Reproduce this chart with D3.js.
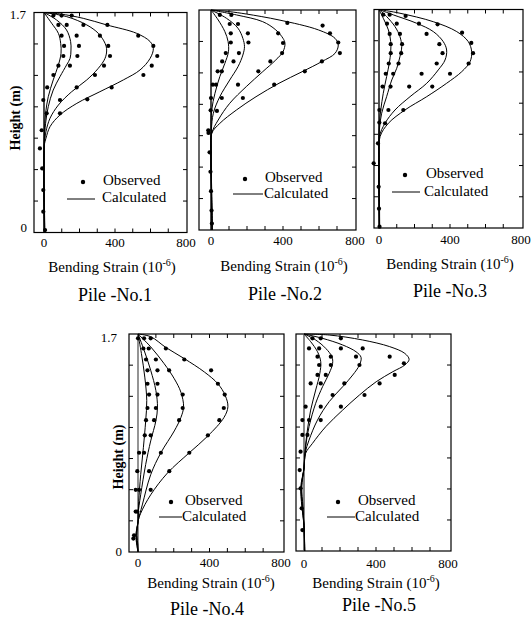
<!DOCTYPE html>
<html>
<head>
<meta charset="utf-8">
<script src="https://cdn.jsdelivr.net/npm/d3@7"></script>
<style>
  body { margin: 0; background: #fff; }
  svg { display: block; }
</style>
</head>
<body>
<svg id="chart" width="531" height="627"></svg>
<script>
// ---- data: bending strain (x 10^-6) versus height along the pile (m) ----
const pileNames = ["Pile -No.1", "Pile -No.2", "Pile -No.3", "Pile -No.4", "Pile -No.5"];
const strainLabels = [0, 400, 800];
const strainTickMarks = [100, 200, 300, 400, 500, 600, 700];
const heightLabels = [0, 1.7];
const heightTickMarks = [0.243, 0.486, 0.729, 0.971, 1.214, 1.457];

// calculated profiles, one list per load step: [strain, height]
const calculated1 = [
  [[0,1.7],[43,1.617],[81,1.539],[94,1.462],[96,1.385],[81,1.294],[52,1.179],[24,1.049],[9,0.921],[2,0.766],[0,0.6],[-2,0.4],[0,0.2],[2,0]],
  [[0,1.7],[71,1.642],[127,1.565],[150,1.475],[152,1.41],[147,1.346],[127,1.294],[90,1.204],[52,1.101],[24,0.972],[9,0.844],[2,0.715],[0,0.5],[0,0.25],[3,0]],
  [[0,1.7],[128,1.668],[241,1.604],[306,1.539],[344,1.462],[353,1.41],[344,1.346],[306,1.269],[241,1.179],[156,1.088],[81,0.985],[34,0.883],[11,0.779],[2,0.676],[0,0.5],[1,0.25],[4,0]],
  [[0,1.7],[90,1.689],[221,1.655],[353,1.604],[522,1.539],[598,1.475],[616,1.423],[598,1.346],[541,1.256],[447,1.179],[315,1.088],[185,0.998],[90,0.908],[34,0.818],[11,0.728],[2,0.676],[0,0.5],[2,0.25],[5,0]]
];
const observed1 = [
  [53,1.676],[99,1.676],[156,1.676],
  [81,1.604],[128,1.604],[222,1.604],[357,1.604],
  [99,1.521],[184,1.521],[315,1.521],[531,1.521],
  [113,1.442],[197,1.442],[362,1.442],[616,1.442],
  [109,1.364],[188,1.364],[372,1.364],[638,1.364],
  [81,1.289],[146,1.289],[338,1.289],[607,1.289],
  [53,1.217],[287,1.217],[560,1.217],
  [18,1.121],[184,1.121],[381,1.121],
  [-4,1.024],[90,1.024],[244,1.029],
  [15,0.921],[90,0.921],
  [-13,0.79],[-23,0.65],[-10,0.495],[-4,0.328],[-4,0.161],[6,0.019]
];

const calculated2 = [
  [[0,1.7],[40,1.623],[77,1.533],[95,1.456],[97,1.378],[77,1.288],[49,1.185],[22,1.056],[4,0.927],[0,0.75],[0,0.5],[3,0.25],[5,0]],
  [[0,1.7],[86,1.636],[150,1.559],[177,1.481],[186,1.417],[177,1.352],[150,1.262],[104,1.159],[49,1.03],[13,0.902],[2,0.772],[0,0.6],[2,0.3],[6,0]],
  [[0,1.7],[141,1.662],[287,1.61],[360,1.546],[400,1.481],[411,1.443],[400,1.378],[360,1.314],[287,1.223],[196,1.108],[104,0.979],[40,0.85],[4,0.747],[0,0.6],[3,0.3],[7,0]],
  [[0,1.7],[104,1.687],[196,1.669],[378,1.623],[597,1.546],[689,1.481],[707,1.43],[689,1.365],[615,1.301],[506,1.223],[378,1.134],[250,1.03],[141,0.927],[49,0.824],[4,0.747],[0,0.6],[4,0.3],[8,0]]
];
const observed2 = [
  [49,1.662],[113,1.662],
  [104,1.592],[150,1.592],[424,1.6],[620,1.58],
  [110,1.52],[205,1.52],[373,1.52],[661,1.52],
  [110,1.449],[208,1.449],[400,1.445],[707,1.449],
  [82,1.367],[155,1.367],[395,1.367],[716,1.367],
  [62,1.303],[125,1.303],[330,1.303],[616,1.303],
  [37,1.226],[60,1.226],[263,1.226],[521,1.226],
  [10,1.123],[28,1.123],[150,1.123],[351,1.123],
  [0,1.02],[60,1.02],[177,1.02],
  [-2,0.925],[33,0.92],
  [-15,0.77],[-14,0.75],[-8,0.6],[-3,0.45],[0,0.3],[3,0.15],[5,0.05]
];

const calculated3 = [
  [[0,1.7],[24,1.632],[53,1.541],[66,1.45],[66,1.372],[58,1.282],[43,1.178],[24,1.048],[10,0.918],[1,0.789],[0,0.6],[-2,0.4],[0,0.2],[2,0]],
  [[0,1.7],[43,1.645],[90,1.567],[118,1.489],[128,1.411],[118,1.333],[100,1.243],[72,1.152],[43,1.022],[15,0.893],[2,0.763],[0,0.6],[0,0.3],[3,0]],
  [[0,1.7],[81,1.658],[212,1.593],[306,1.528],[362,1.45],[381,1.385],[372,1.307],[334,1.23],[269,1.126],[175,1.022],[90,0.918],[34,0.815],[2,0.711],[0,0.55],[1,0.3],[3,0]],
  [[0,1.7],[118,1.671],[306,1.605],[438,1.528],[503,1.45],[522,1.372],[513,1.294],[466,1.216],[381,1.126],[269,1.022],[146,0.918],[53,0.815],[6,0.711],[0,0.55],[2,0.3],[4,0]]
];
const observed3 = [
  [24,1.66],[60,1.66],[150,1.65],
  [45,1.59],[100,1.59],[225,1.59],[330,1.585],
  [60,1.51],[118,1.51],[268,1.51],[468,1.52],
  [66,1.43],[130,1.43],[340,1.43],[520,1.44],
  [66,1.36],[125,1.36],[358,1.36],[530,1.36],
  [55,1.28],[110,1.28],[325,1.28],[505,1.28],
  [38,1.2],[80,1.2],[240,1.2],[400,1.2],
  [20,1.1],[65,1.1],[170,1.1],[300,1.1],
  [2,0.918],[53,0.918],[137,0.918],
  [2,0.82],[34,0.815],
  [-6,0.659],[-30,0.503],[-2,0.32],[0,0.15],[3,0.01]
];

const calculated4 = [
  [[0,1.7],[19,1.548],[38,1.364],[49,1.18],[43,1.023],[30,0.813],[15,0.603],[4,0.393],[0,0.236],[-10,0.13],[-5,0.05],[0,0]],
  [[0,1.7],[34,1.574],[71,1.417],[100,1.259],[109,1.128],[100,1.023],[71,0.866],[43,0.682],[15,0.446],[0,0.289],[0,0.236],[-12,0.13],[-6,0.05],[0,0]],
  [[0,1.7],[71,1.6],[146,1.469],[203,1.351],[240,1.246],[255,1.133],[240,1.049],[203,0.944],[128,0.774],[71,0.603],[24,0.367],[0,0.236],[-8,0.13],[-3,0.05],[0,0]],
  [[0,1.7],[71,1.679],[156,1.595],[259,1.508],[372,1.403],[447,1.312],[488,1.22],[503,1.133],[481,1.049],[391,0.905],[287,0.774],[165,0.616],[71,0.446],[15,0.302],[0,0.236],[-6,0.13],[0,0.05],[2,0]]
];
const observed4 = [
  [0,1.666],[34,1.666],[71,1.666],
  [30,1.587],[60,1.587],[156,1.587],
  [45,1.501],[100,1.501],[259,1.501],
  [53,1.417],[109,1.417],[174,1.417],[409,1.417],
  [53,1.312],[109,1.312],[447,1.312],
  [62,1.228],[109,1.228],[250,1.228],[485,1.228],
  [53,1.123],[100,1.123],[250,1.123],[480,1.123],
  [45,1.028],[90,1.028],[230,1.028],[455,1.028],
  [38,0.91],[71,0.91],[391,0.91],
  [6,0.774],[34,0.774],[128,0.774],[287,0.774],
  [-4,0.63],[62,0.63],[175,0.63],
  [-13,0.485],[6,0.485],[71,0.485],
  [-13,0.315],[-4,0.315],
  [-26,0.105],[-22,0.13]
];

const calculated5 = [
  [[0,1.7],[37,1.64],[75,1.561],[93,1.483],[88,1.392],[65,1.261],[37,1.104],[19,0.948],[6,0.791],[0,0.65],[-15,0.5],[-10,0.35],[0,0.2],[2,0]],
  [[0,1.7],[65,1.653],[121,1.587],[155,1.522],[159,1.47],[140,1.392],[103,1.287],[65,1.157],[28,0.974],[9,0.817],[0,0.65],[-18,0.5],[-12,0.35],[0,0.2],[3,0]],
  [[0,1.7],[103,1.666],[215,1.614],[289,1.561],[317,1.517],[308,1.457],[271,1.379],[215,1.287],[140,1.17],[75,1.026],[28,0.869],[6,0.765],[0,0.65],[-15,0.5],[-8,0.35],[0,0.2],[4,0]],
  [[0,1.7],[140,1.692],[326,1.653],[476,1.601],[560,1.548],[584,1.501],[560,1.457],[494,1.405],[401,1.326],[308,1.222],[215,1.104],[121,0.974],[47,0.843],[9,0.765],[0,0.65],[-12,0.5],[-6,0.35],[0,0.2],[5,0]]
];
const observed5 = [
  [47,1.666],[93,1.666],[205,1.666],
  [28,1.587],[84,1.587],[205,1.587],[326,1.587],
  [75,1.522],[149,1.522],[289,1.522],[476,1.522],
  [84,1.457],[149,1.457],[308,1.457],[555,1.47],
  [75,1.379],[121,1.379],[504,1.379],
  [37,1.313],[93,1.313],[224,1.313],[420,1.313],
  [159,1.222],[336,1.222],
  [9,1.131],[93,1.131],[205,1.131],
  [-9,1.026],[28,1.026],[93,1.026],
  [-9,0.909],[19,0.909],
  [-19,0.778],[-24,0.634],[-19,0.491],[-13,0.334],[-9,0.164]
];

const calculatedSets = [calculated1, calculated2, calculated3, calculated4, calculated5];
const observedSets = [observed1, observed2, observed3, observed4, observed5];

// ---- page layout of the five frames (pixels) ----
const layout = [
  { left: 34, right: 187, top: 12.5, bottom: 232.5, zero: 44, x800: 186, tickY: 247, titleX: 112, titleY: 272, nameX: 115, nameY: 301,
    leg: { dotX: 83, dotY: 182, textX: 103, obsY: 185, lineX1: 67, lineX2: 95, lineY: 199, calcX: 102, calcY: 202 },
    heightAxis: { x: 15, y: 118, endX: 26, topY: 19, zeroX: 27, zeroY: 232 }, zeroStroke: "#000" },
  { left: 199, right: 356, top: 10, bottom: 230, zero: 211, x800: 355, tickY: 245, titleX: 284, titleY: 271, nameX: 285, nameY: 300,
    leg: { dotX: 245, dotY: 179, textX: 265, obsY: 182, lineX1: 233, lineX2: 263, lineY: 194, calcX: 264, calcY: 198 },
    heightAxis: null, zeroStroke: "#000" },
  { left: 374, right: 523, top: 9.5, bottom: 228, zero: 379, x800: 521, tickY: 244, titleX: 450, titleY: 269, nameX: 450, nameY: 297,
    leg: { dotX: 405, dotY: 175, textX: 426, obsY: 178, lineX1: 392, lineX2: 420, lineY: 192, calcX: 424, calcY: 196 },
    heightAxis: null, zeroStroke: "#000" },
  { left: 129, right: 284, top: 334, bottom: 552, zero: 138, x800: 281, tickY: 567, titleX: 211, titleY: 588, nameX: 207, nameY: 615,
    leg: { dotX: 171, dotY: 502, textX: 185, obsY: 505, lineX1: 159, lineX2: 182, lineY: 517, calcX: 182, calcY: 521 },
    heightAxis: { x: 118, y: 457, endX: 117, topY: 342, zeroX: 122, zeroY: 556 }, zeroStroke: "#666" },
  { left: 296, right: 451, top: 334, bottom: 551, zero: 304, x800: 448, tickY: 568, titleX: 376, titleY: 588, nameX: 379, nameY: 611,
    leg: { dotX: 338, dotY: 502, textX: 358, obsY: 505, lineX1: 327, lineX2: 355, lineY: 517, calcX: 355, calcY: 521 },
    heightAxis: null, zeroStroke: "#555" }
];

const serif = "'Liberation Serif', 'Times New Roman', serif";
const svg = d3.select("#chart");
svg.append("rect").attr("width", 531).attr("height", 627).attr("fill", "#fff");

// every label uses the same serif face
function label(sel, size) {
  return sel.style("font-family", serif).style("font-size", size + "px").attr("fill", "#000");
}

layout.forEach((L, i) => {
  const g = svg.append("g");
  const x = d3.scaleLinear().domain([0, 800]).range([L.zero, L.x800]);
  const y = d3.scaleLinear().domain([0, 1.7]).range([L.bottom, L.top]);

  // frame
  g.append("rect")
    .attr("x", L.left).attr("y", L.top)
    .attr("width", L.right - L.left).attr("height", L.bottom - L.top)
    .attr("fill", "none").attr("stroke", "#000").attr("stroke-width", 1.2);

  // inward tick marks on all four sides
  const ticks = g.append("g").attr("stroke", "#000").attr("stroke-width", 1);
  ticks.selectAll(".tb").data(strainTickMarks).join("line")
    .attr("x1", d => x(d)).attr("x2", d => x(d))
    .attr("y1", L.bottom).attr("y2", L.bottom - 4);
  ticks.selectAll(".tt").data(strainTickMarks).join("line")
    .attr("x1", d => x(d)).attr("x2", d => x(d))
    .attr("y1", L.top).attr("y2", L.top + 4);
  ticks.selectAll(".tl").data(heightTickMarks).join("line")
    .attr("x1", L.left).attr("x2", L.left + 4)
    .attr("y1", d => y(d)).attr("y2", d => y(d));
  ticks.selectAll(".tr").data(heightTickMarks).join("line")
    .attr("x1", L.right).attr("x2", L.right - 4)
    .attr("y1", d => y(d)).attr("y2", d => y(d));

  // zero-strain reference line
  g.append("line")
    .attr("x1", x(0)).attr("x2", x(0)).attr("y1", y(0)).attr("y2", y(1.7))
    .attr("stroke", L.zeroStroke).attr("stroke-width", 1.4);

  // calculated profiles
  const line = d3.line()
    .x(d => x(d[0])).y(d => y(d[1]))
    .curve(d3.curveCatmullRom.alpha(0.5));
  g.selectAll(".calc").data(calculatedSets[i]).join("path")
    .attr("d", line).attr("fill", "none")
    .attr("stroke", "#000").attr("stroke-width", 1);

  // observed points
  g.selectAll(".obs").data(observedSets[i]).join("circle")
    .attr("cx", d => x(d[0])).attr("cy", d => y(d[1]))
    .attr("r", 2.1).attr("fill", "#000");

  // strain tick labels
  label(g.selectAll(".xl").data(strainLabels).join("text"), 13)
    .attr("x", d => x(d)).attr("y", L.tickY)
    .attr("text-anchor", "middle")
    .text(d => d);

  // strain axis title with superscript exponent
  const t = label(g.append("text"), 15)
    .attr("x", L.titleX).attr("y", L.titleY)
    .attr("text-anchor", "middle");
  t.append("tspan").text("Bending Strain (10");
  t.append("tspan").attr("dy", -6).style("font-size", "10px").text("-6");
  t.append("tspan").attr("dy", 6).text(")");

  // pile name
  label(g.append("text"), 18)
    .attr("x", L.nameX).attr("y", L.nameY)
    .attr("text-anchor", "middle")
    .text(pileNames[i]);

  // legend
  const lg = L.leg;
  g.append("circle").attr("cx", lg.dotX).attr("cy", lg.dotY).attr("r", 2.2).attr("fill", "#000");
  label(g.append("text"), 15).attr("x", lg.textX).attr("y", lg.obsY).text("Observed");
  g.append("line").attr("x1", lg.lineX1).attr("x2", lg.lineX2)
    .attr("y1", lg.lineY).attr("y2", lg.lineY)
    .attr("stroke", "#000").attr("stroke-width", 1);
  label(g.append("text"), 15).attr("x", lg.calcX).attr("y", lg.calcY).text("Calculated");

  // height axis labels on the left-hand frames
  if (L.heightAxis) {
    const h = L.heightAxis;
    label(g.append("text"), 13).attr("x", h.endX).attr("y", h.topY)
      .attr("text-anchor", "end").text(heightLabels[1]);
    label(g.append("text"), 13).attr("x", h.zeroX).attr("y", h.zeroY)
      .attr("text-anchor", "end").text(heightLabels[0]);
    label(g.append("text"), 14)
      .attr("transform", `translate(${h.x},${h.y}) rotate(-90)`)
      .attr("text-anchor", "middle").attr("dy", "0.35em")
      .style("font-weight", "bold")
      .text("Height (m)");
  }
});
</script>
</body>
</html>
